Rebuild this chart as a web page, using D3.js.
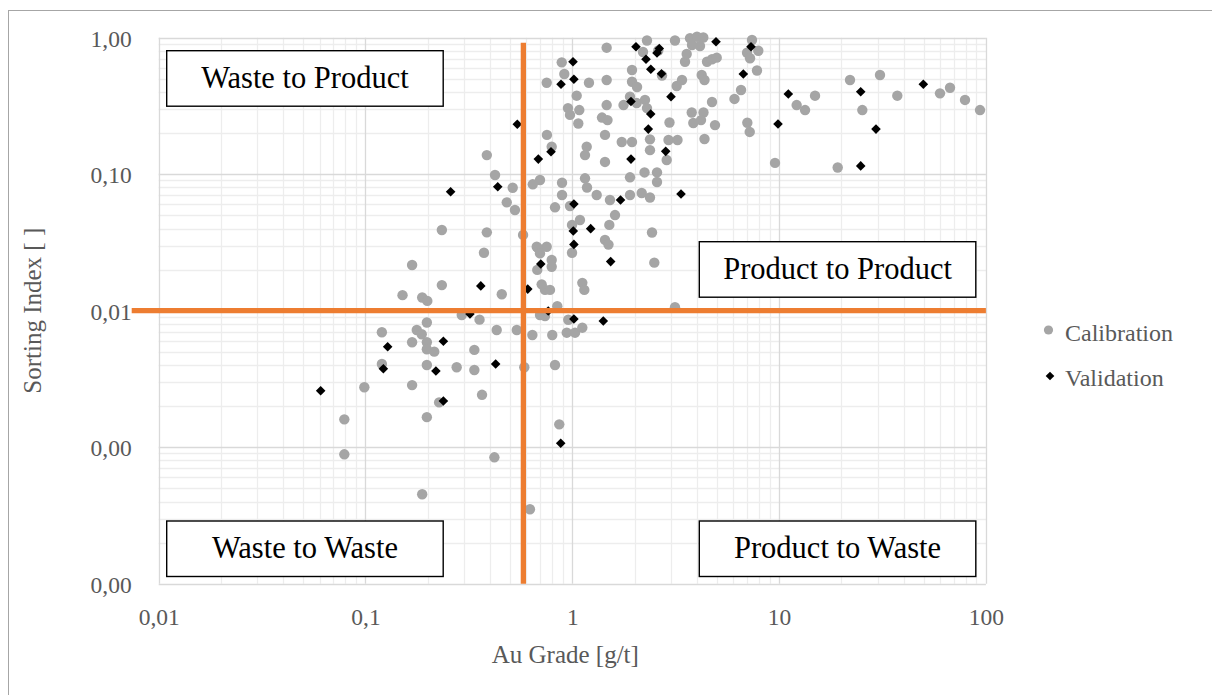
<!DOCTYPE html>
<html>
<head>
<meta charset="utf-8">
<script src="https://cdn.jsdelivr.net/npm/d3@7"></script>
<style>
  html, body { margin: 0; padding: 0; background: #fff; }
  svg { display: block; }
  text { font-family: "Palatino Linotype", "Book Antiqua", Palatino, "Liberation Serif", serif; }
</style>
</head>
<body>
<svg id="chart" width="1212" height="695"></svg>
<script>
// ---------------- DATA ----------------
const calX = [0.234,0.386,0.386,0.423,0.515,0.482,0.528,0.578,0.644,0.698,0.673,0.752,0.754,0.795,0.892,0.892,0.825,0.975,1.089,0.997,
  0.889,0.915,0.752,1.05,0.953,1.081,0.975,1.069,1.204,1.466,1.466,1.466,1.392,1.48,1.439,1.174,1.152,1.439,1.152,1.178,
  1.312,1.521,1.609,1.51,1.439,1.496,1.734,1.944,1.901,1.901,2.166,2.375,2.235,2.568,2.568,2.375,2.375,2.861,2.951,2.919,
  3.226,2.429,1.944,1.944,2.056,1.769,1.901,2.048,2.247,2.297,2.197,2.297,2.605,2.715,3.137,3.197,3.393,3.508,3.574,3.709,
  3.792,4.009,4.3,4.145,4.481,4.738,4.993,4.224,4.357,4.738,3.78,3.847,4.309,4.192,4.898,4.357,6.084,6.545,7.021,7.21,
  6.998,7.396,7.932,7.235,7.818,9.554,12.16,13.35,14.92,22.02,25.26,30.75,37.29,59.98,67.05,79.25,93.65,19.2,2.492,3.137,
  0.374,0.168,0.234,0.151,0.188,0.199,0.292,0.356,0.198,0.12,0.177,0.187,0.168,0.198,0.198,0.215,0.336,0.12,0.198,0.276,
  0.336,0.0987,0.168,0.366,0.227,0.079,0.198,0.079,0.188,0.42,0.685,0.698,0.795,0.795,0.677,0.997,1.118,1.143,0.711,0.738,
  0.78,0.456,0.846,0.698,0.738,0.956,0.431,0.539,0.641,0.8,0.94,1.031,1.118,0.586,0.825,0.865,0.624];
const calY = [0.039,0.0375,0.138,0.0986,0.0796,0.0622,0.0547,0.0359,0.0843,0.0907,0.0294,0.0294,0.194,0.159,0.0866,0.0704,0.0572,0.0585,0.0462,0.0425,
  0.66,0.542,0.468,0.376,0.305,0.295,0.272,0.235,0.468,0.49,0.845,0.321,0.26,0.249,0.194,0.159,0.138,0.123,0.0933,0.0799,
  0.0704,0.0647,0.0502,0.0425,0.033,0.0305,0.172,0.172,0.0949,0.0704,0.0728,0.0675,0.103,0.103,0.0877,0.18,0.15,0.127,0.239,0.178,
  0.178,0.0374,0.58,0.476,0.435,0.321,0.37,0.332,0.35,0.305,0.786,0.954,0.806,0.529,0.954,0.443,0.49,0.667,0.76,0.99,
  0.884,1.017,1.003,0.869,0.667,0.695,0.714,0.533,0.49,0.338,0.283,0.237,0.283,0.249,0.229,0.181,0.356,0.414,0.238,0.204,
  0.776,0.962,0.803,0.707,0.575,0.121,0.321,0.295,0.376,0.49,0.295,0.533,0.376,0.391,0.43,0.35,0.295,0.112,0.0225,0.0106,
  0.0266,0.0216,0.0154,0.013,0.0125,0.0118,0.0093,0.0086,0.0082,0.00695,0.00722,0.00672,0.00587,0.00587,0.00522,0.00501,0.00516,0.00407,0.004,0.00385,
  0.00368,0.00275,0.00285,0.00242,0.00213,0.0016,0.00166,0.000887,0.000452,0.000843,0.0286,0.0263,0.0235,0.021,0.0199,0.0266,0.016,0.0142,0.0156,0.0142,
  0.0142,0.0132,0.0108,0.0093,0.00915,0.00859,0.00722,0.00722,0.00664,0.00664,0.0069,0.0069,0.00751,0.00385,0.004,0.00147,0.000351];

const valX = [0.258,0.436,0.542,0.685,0.789,0.882,1.008,1.018,1.018,1.011,1.018,1.227,1.711,1.922,1.922,2.032,2.272,2.397,2.568,2.634,
  2.7,2.394,2.331,2.829,3.355,3.001,4.953,7.313,6.714,9.88,11.08,24.81,29.41,24.81,49.82,0.361,0.32,0.128,0.238,0.122,
  0.219,0.0607,0.238,0.704,1.533,0.609,0.765,1.018,1.412,0.426,0.879];
const valY = [0.0744,0.081,0.232,0.129,0.146,0.456,0.667,0.496,0.0605,0.0384,0.0306,0.0399,0.0647,0.129,0.341,0.859,0.695,0.587,0.772,0.834,
  0.545,0.276,0.214,0.147,0.0716,0.37,0.935,0.859,0.542,0.233,0.387,0.402,0.214,0.115,0.456,0.0152,0.00946,0.00545,0.00597,0.00376,
  0.00362,0.00259,0.00218,0.022,0.0229,0.0144,0.00995,0.00869,0.0084,0.00407,0.00107];

const xTicks = [0.01, 0.1, 1, 10, 100];
const xTickLabels = ["0,01", "0,1", "1", "10", "100"];
const yTicks = [0.0001, 0.001, 0.01, 0.1, 1];
const yTickLabels = ["0,00", "0,00", "0,01", "0,10", "1,00"];

const xThreshold = 0.58;   // Au grade cut-off
const yThreshold = 0.01;   // sorting index cut-off

const seriesNames = ["Calibration", "Validation"];
const quadrantLabels = ["Waste to Product", "Product to Product", "Waste to Waste", "Product to Waste"];
const xTitle = "Au Grade [g/t]";
const yTitle = "Sorting Index [ ]";

// ---------------- LAYOUT ----------------
const plot = { left: 158.7, right: 985.9, top: 37.7, bottom: 583.7 };
const svg = d3.select("#chart");

const x = d3.scaleLog().domain([0.01, 100]).range([plot.left, plot.right]);
const y = d3.scaleLog().domain([0.0001, 1]).range([plot.bottom, plot.top]);

// outer chart border
svg.append("rect").attr("x", 8.5).attr("y", 10.5).attr("width", 1220).attr("height", 700)
  .attr("fill", "#fff").attr("stroke", "#a6a6a6").attr("stroke-width", 1);

// grid lines
const minorX = [], minorY = [];
for (let e = -2; e < 2; e++) for (let m = 2; m <= 9; m++) minorX.push(m * Math.pow(10, e));
for (let e = -4; e < 0; e++) for (let m = 2; m <= 9; m++) minorY.push(m * Math.pow(10, e));

const grid = svg.append("g");
grid.selectAll(".mx").data(minorX).enter().append("line")
  .attr("x1", d => Math.round(x(d)) + 0.5).attr("x2", d => Math.round(x(d)) + 0.5)
  .attr("y1", plot.top).attr("y2", plot.bottom)
  .attr("stroke", "#ededed").attr("stroke-width", 1.3);
grid.selectAll(".my").data(minorY).enter().append("line")
  .attr("y1", d => Math.round(y(d)) + 0.5).attr("y2", d => Math.round(y(d)) + 0.5)
  .attr("x1", plot.left).attr("x2", plot.right)
  .attr("stroke", "#ededed").attr("stroke-width", 1.3);
grid.selectAll(".Mx").data(xTicks).enter().append("line")
  .attr("x1", d => Math.round(x(d)) + 0.5).attr("x2", d => Math.round(x(d)) + 0.5)
  .attr("y1", plot.top).attr("y2", plot.bottom)
  .attr("stroke", "#d9d9d9").attr("stroke-width", 1.3);
grid.selectAll(".My").data(yTicks).enter().append("line")
  .attr("y1", d => Math.round(y(d)) + 0.5).attr("y2", d => Math.round(y(d)) + 0.5)
  .attr("x1", plot.left).attr("x2", plot.right)
  .attr("stroke", "#d9d9d9").attr("stroke-width", 1.3);

// axes (labels only)
const xAxis = d3.axisBottom(x).tickValues(xTicks)
  .tickFormat((d, i) => xTickLabels[i]).tickSize(0).tickPadding(0);
const gx = svg.append("g").attr("transform", `translate(0,${plot.bottom})`).call(xAxis);
gx.select(".domain").remove();
gx.selectAll("text").attr("y", 41).attr("dy", null)
  .style("font-family", "'Palatino Linotype','Book Antiqua',Palatino,'Liberation Serif',serif")
  .style("font-size", "23.5px").attr("fill", "#595959");

const yAxis = d3.axisLeft(y).tickValues(yTicks)
  .tickFormat((d, i) => yTickLabels[i]).tickSize(0).tickPadding(0);
const gy = svg.append("g").attr("transform", `translate(${plot.left - 27},0)`).call(yAxis);
gy.select(".domain").remove();
gy.selectAll("text").attr("x", 0).attr("dy", "0.36em")
  .style("font-family", "'Palatino Linotype','Book Antiqua',Palatino,'Liberation Serif',serif")
  .style("font-size", "23.5px").attr("fill", "#595959");

// axis titles
svg.append("text").attr("x", (plot.left + plot.right) / 2 - 7).attr("y", 663)
  .attr("text-anchor", "middle").attr("font-size", 25).attr("fill", "#595959").text(xTitle);
svg.append("text").attr("transform", `translate(41,${(plot.top + plot.bottom) / 2}) rotate(-90)`)
  .attr("text-anchor", "middle").attr("font-size", 25).attr("fill", "#595959").text(yTitle);

// data points
const cal = calX.map((v, i) => ({ x: v, y: calY[i] }));
const val = valX.map((v, i) => ({ x: v, y: valY[i] }));
const diamond = (r) => `M0,${-r}L${r},0L0,${r}L${-r},0Z`;

svg.append("g").selectAll("circle").data(cal).enter().append("circle")
  .attr("cx", d => x(d.x)).attr("cy", d => y(d.y)).attr("r", 5.2)
  .attr("fill", "#a5a5a5");
svg.append("g").selectAll("path").data(val).enter().append("path")
  .attr("transform", d => `translate(${x(d.x)},${y(d.y)})`)
  .attr("d", diamond(4.8)).attr("fill", "#000");

// threshold lines
const orange = "#ed7d31";
svg.append("line").attr("x1", x(xThreshold)).attr("x2", x(xThreshold))
  .attr("y1", plot.top + 5).attr("y2", plot.bottom)
  .attr("stroke", orange).attr("stroke-width", 5.3);
svg.append("line").attr("x1", plot.left - 27).attr("x2", plot.right)
  .attr("y1", y(yThreshold)).attr("y2", y(yThreshold))
  .attr("stroke", orange).attr("stroke-width", 5.3);

// quadrant label boxes
const boxW = 276.5, boxH = 55.5;
const boxPos = [
  { x: plot.left + 8, y: plot.top + 13 },
  { x: plot.right - 286.6, y: plot.top + 204 },
  { x: plot.left + 8, y: plot.bottom - 62.7 },
  { x: plot.right - 286.6, y: plot.bottom - 62.7 }
];
const boxes = svg.append("g").selectAll("g").data(quadrantLabels).enter().append("g")
  .attr("transform", (d, i) => `translate(${boxPos[i].x},${boxPos[i].y})`);
boxes.append("rect").attr("width", boxW).attr("height", boxH)
  .attr("fill", "#fff").attr("stroke", "#000").attr("stroke-width", 1.4);
boxes.append("text").attr("x", boxW / 2).attr("y", boxH / 2 + 9.5)
  .attr("text-anchor", "middle").attr("font-size", 30.5).attr("fill", "#000")
  .text(d => d);

// legend
const leg = svg.append("g");
leg.append("circle").attr("cx", 1048.5).attr("cy", 330).attr("r", 4.6).attr("fill", "#a5a5a5");
leg.append("path").attr("transform", "translate(1050,376)").attr("d", diamond(4.3)).attr("fill", "#000");
leg.append("text").attr("x", 1065).attr("y", 340.5).attr("font-size", 24).attr("fill", "#595959").text(seriesNames[0]);
leg.append("text").attr("x", 1065).attr("y", 386).attr("font-size", 24).attr("fill", "#595959").text(seriesNames[1]);
</script>
</body>
</html>
